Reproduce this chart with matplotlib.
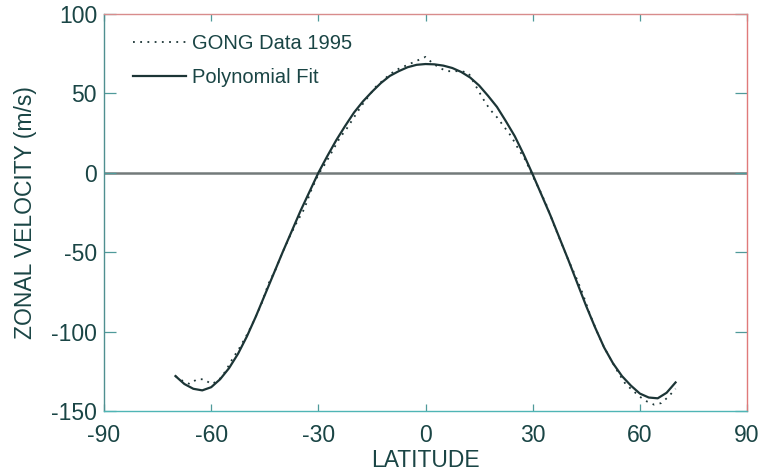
import matplotlib
matplotlib.use("Agg")
import matplotlib.pyplot as plt

# Polynomial fit
fit_lat = [-70, -67.5, -65, -62.5, -60, -57.5, -55, -52.5, -50, -47.5, -45, -42.5,
           -40, -37.5, -35, -32.5, -30, -27.5, -25, -22.5, -20, -17.5, -15, -12.5,
           -10, -7.5, -5, -2.5, 0, 2.5, 5, 7.5, 10, 12.5, 15, 17.5, 20, 22.5, 25,
           27.5, 30, 32.5, 35, 37.5, 40, 42.5, 45, 47.5, 50, 52.5, 55, 57.5, 60,
           62.5, 65, 67.5, 70]
fit_vel = [-128, -133, -136, -137, -135, -130, -123, -114, -103, -90.5, -77, -63.5,
           -50, -37, -24, -12, 0, 10.5, 20.5, 29.5, 38, 45, 51, 56.5,
           61, 64, 66.5, 68, 68.5, 68.3, 67.5, 66, 63.5, 60, 55, 48.5, 41.5, 32.5, 23,
           11.5, -1, -14, -27, -41, -55, -69.5, -84, -97.5, -110, -120, -128, -134, -139,
           -141.5, -142, -138.5, -132]

# GONG data 1995
gong_lat = list(range(-70, 72, 2))
gong_vel = [-128, -131, -133, -130, -130, -133, -131, -125, -117, -110,
            -102, -93, -83, -70, -61, -50, -40, -31, -23, -11,
            -1, 6, 14, 22, 28, 35, 42, 48, 54, 58,
            62, 65, 67, 69, 71, 73, 69, 66, 64, 64,
            64, 63, 55, 47, 40, 35, 29, 23, 15, 8,
            -2, -11, -21, -33, -44, -55, -65, -76, -89, -100,
            -110, -118, -126, -133, -137, -141, -144, -146, -145, -141,
            -136]

x_ticks = [-90, -60, -30, 0, 30, 60, 90]
y_ticks = [-150, -100, -50, 0, 50, 100]

plt.rcParams['font.family'] = ['Liberation Sans', 'DejaVu Sans']
plt.rcParams['axes.unicode_minus'] = False
txt = '#1a4545'
line_c = '#1c3536'

fig = plt.figure(figsize=(7.61, 4.75), dpi=100)
ax = fig.add_axes([0.1367, 0.1347, 0.8449, 0.8358])

ax.axhline(0, color='#737a7a', lw=1.8, zorder=1)
ax.plot(gong_lat, gong_vel, linestyle=(0, (1, 3)), color=line_c, lw=1.3,
        label='GONG Data 1995', zorder=2)
ax.plot(fit_lat, fit_vel, '-', color=line_c, lw=1.6, label='Polynomial Fit', zorder=3)

ax.set_xlim(-90, 90)
ax.set_ylim(-150, 100)
ax.set_xticks(x_ticks)
ax.set_yticks(y_ticks)

ax.spines['left'].set_color('#4f8f90')
ax.spines['bottom'].set_color('#4fb5b5')
ax.spines['top'].set_color('#d88c8c')
ax.spines['right'].set_color('#e07a7a')
for s in ax.spines.values():
    s.set_linewidth(1.0)

ax.tick_params(axis='x', direction='in', length=5, width=0.9, colors='#4f9a9a',
               top=True, labelsize=16.5, labelcolor=txt, pad=9)
ax.tick_params(axis='y', direction='in', length=8.5, width=0.9, colors='#4f9a9a',
               right=True, labelsize=16.5, labelcolor=txt, pad=5)

ax.set_xlabel('LATITUDE', fontsize=16.5, color=txt, labelpad=2)
ax.set_ylabel('ZONAL VELOCITY (m/s)', fontsize=16.5, color=txt, labelpad=10)

leg = ax.legend(loc='upper left', frameon=False, fontsize=14.5, handlelength=2.6,
                handletextpad=0.3, labelspacing=0.75, borderaxespad=0.6,
                bbox_to_anchor=(0.014, 1.0))
for t in leg.get_texts():
    t.set_color(txt)

fig.savefig('out.png', dpi=100)
